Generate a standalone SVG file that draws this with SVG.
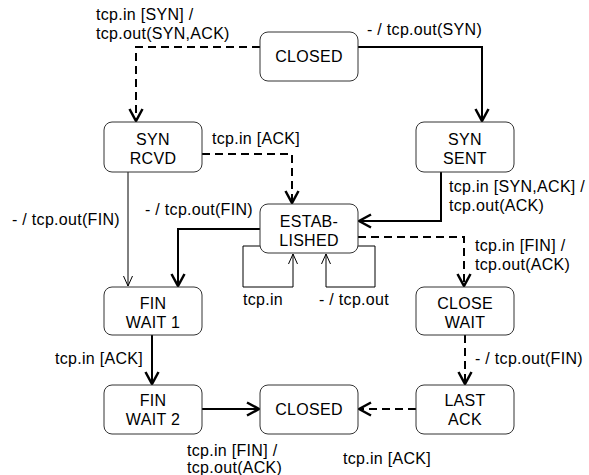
<svg xmlns="http://www.w3.org/2000/svg" width="589" height="475" viewBox="0 0 589 475">
<style>
text{font-family:"Liberation Sans",Arial,sans-serif;font-size:16px;letter-spacing:0.3px;fill:#000}
.n rect{fill:#fff;stroke:#333;stroke-width:1}
.n text{text-anchor:middle}
.c path{fill:none;stroke:#000}
.thick{stroke-width:2}
.dash{stroke-width:2;stroke-dasharray:8,5}
.thin{stroke-width:1}
</style>
<defs>
<marker id="ah" viewBox="-13 -8 15 16" refX="0" refY="0" markerWidth="15" markerHeight="16" markerUnits="userSpaceOnUse" orient="auto">
<path d="M-12,-6.5 L0,0 L-12,6.5" fill="none" stroke="#000" stroke-width="2.5" stroke-dasharray="none"/>
</marker>
<marker id="ahs" viewBox="-11 -6 12 12" refX="0" refY="0" markerWidth="12" markerHeight="12" markerUnits="userSpaceOnUse" orient="auto">
<path d="M-10,-4.5 L0,0 L-10,4.5" fill="none" stroke="#000" stroke-width="1" stroke-dasharray="none"/>
</marker>
</defs>
<g id="connectors" class="c">
<path class="dash" d="M260,47 H136 V121" marker-end="url(#ah)"/>
<path class="thick" d="M358,47 H482 V121" marker-end="url(#ah)"/>
<path class="dash" d="M202,154 H292 V203" marker-end="url(#ah)"/>
<path class="thick" d="M441,172 V221 H359" marker-end="url(#ah)"/>
<path class="thin" d="M128,172 V286" marker-end="url(#ahs)"/>
<path class="thick" d="M260,229 H178 V286" marker-end="url(#ah)"/>
<path class="thin" d="M260,246 H243 V287 H293 V254" marker-end="url(#ahs)"/>
<path class="thin" d="M358,246 H375 V287 H326 V254" marker-end="url(#ahs)"/>
<path class="dash" d="M358,237 H464 V286" marker-end="url(#ah)"/>
<path class="dash" d="M465,335 V384" marker-end="url(#ah)"/>
<path class="thick" d="M152,335 V384" marker-end="url(#ah)"/>
<path class="thick" d="M202,409 H259" marker-end="url(#ah)"/>
<path class="dash" d="M416,409 H359" marker-end="url(#ah)"/>
</g>
<g id="labels">
<text x="96" y="20">tcp.in [SYN] /</text>
<text x="96" y="39">tcp.out(SYN,ACK)</text>
<text x="367" y="35">- / tcp.out(SYN)</text>
<text x="212" y="144">tcp.in [ACK]</text>
<text x="449" y="192">tcp.in [SYN,ACK] /</text>
<text x="449" y="211">tcp.out(ACK)</text>
<text x="12" y="225">- / tcp.out(FIN)</text>
<text x="145" y="215">- / tcp.out(FIN)</text>
<text x="243" y="305">tcp.in</text>
<text x="319" y="305">- / tcp.out</text>
<text x="475" y="251">tcp.in [FIN] /</text>
<text x="475" y="270">tcp.out(ACK)</text>
<text x="475" y="364">- / tcp.out(FIN)</text>
<text x="55" y="364">tcp.in [ACK]</text>
<text x="187" y="456">tcp.in [FIN] /</text>
<text x="187" y="473">tcp.out(ACK)</text>
<text x="343" y="464">tcp.in [ACK]</text>
</g>
<g id="closed-top" class="n"><rect x="260" y="32" width="98" height="49" rx="8"/><text x="309" y="62">CLOSED</text></g>
<g id="syn-rcvd" class="n"><rect x="104" y="122" width="98" height="50" rx="8"/><text x="153" y="145">SYN</text><text x="153" y="164">RCVD</text></g>
<g id="syn-sent" class="n"><rect x="416" y="122" width="98" height="50" rx="8"/><text x="465" y="145">SYN</text><text x="465" y="164">SENT</text></g>
<g id="established" class="n"><rect x="260" y="204" width="98" height="49" rx="8"/><text x="309" y="227">ESTAB-</text><text x="309" y="246">LISHED</text></g>
<g id="fin-wait-1" class="n"><rect x="104" y="287" width="98" height="48" rx="8"/><text x="153" y="309">FIN</text><text x="153" y="328">WAIT 1</text></g>
<g id="close-wait" class="n"><rect x="416" y="287" width="98" height="48" rx="8"/><text x="465" y="309">CLOSE</text><text x="465" y="328">WAIT</text></g>
<g id="fin-wait-2" class="n"><rect x="104" y="385" width="98" height="49" rx="8"/><text x="153" y="406">FIN</text><text x="153" y="425">WAIT 2</text></g>
<g id="closed-bottom" class="n"><rect x="260" y="385" width="98" height="49" rx="8"/><text x="309" y="415">CLOSED</text></g>
<g id="last-ack" class="n"><rect x="416" y="385" width="98" height="49" rx="8"/><text x="465" y="406">LAST</text><text x="465" y="425">ACK</text></g>
</svg>
